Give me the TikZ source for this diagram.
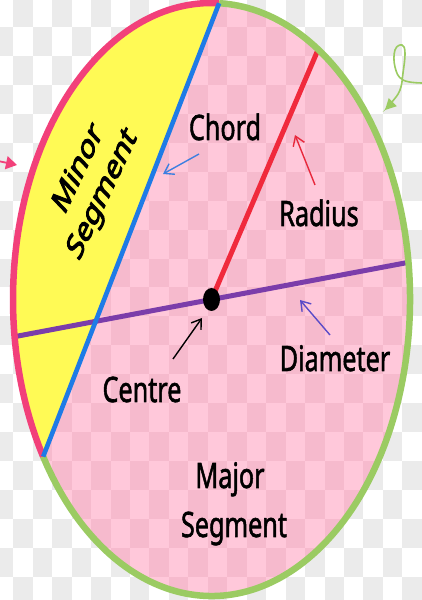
\documentclass[tikz,border=0pt]{standalone}
\usepackage{fontspec}
\setmainfont{Noto Sans}
\newfontfamily\lblfont{Noto Sans}[BoldFont={Noto Sans},BoldFeatures={FakeBold=1.8}]
\newfontfamily\minfont{Noto Sans}[BoldFont={Noto Sans},BoldFeatures={FakeBold=3.4}]
\usetikzlibrary{arrows.meta,calc}
\definecolor{bggrey}{HTML}{EBEBEB}
\definecolor{pinklight}{HTML}{FFC8DA}
\definecolor{pinkdark}{HTML}{F6BACD}
\definecolor{minorY}{HTML}{FFFA55}
\definecolor{pinkB}{HTML}{F2407A}
\definecolor{greenB}{HTML}{9BCB62}
\definecolor{chordB}{HTML}{1E7BE6}
\definecolor{radB}{HTML}{F02A3C}
\definecolor{diamB}{HTML}{7B3DAA}
\definecolor{chordA}{HTML}{3D7FE0}
\definecolor{radA}{HTML}{E8283C}
\definecolor{diamA}{HTML}{5A4BC8}
\begin{document}
\begin{tikzpicture}[x=1pt,y=1pt,
  lbl/.style={font=\lblfont\bfseries\fontsize{35}{40}\selectfont, inner sep=0pt, xscale=0.72, anchor=base},
  minorlbl/.style={font=\minfont\bfseries\fontsize{36}{44}\selectfont, inner sep=0pt, align=center, xscale=0.67, rotate=55},
  thinarrow/.style={line width=1.4pt, -{Straight Barb[length=9pt,width=12pt]}},
  border/.style={line width=6.5pt},
]
\useasboundingbox (0,0) rectangle (421,600);
\fill[white] (0,0) rectangle (421,600);
% background checkerboard
\foreach \i in {-1,...,21}{
  \foreach \j in {0,...,20}{
    \ifodd\numexpr\i+\j+2\relax\else
      \fill[bggrey] ({13.3+19.45*(\i)},{601.94-28.94*(\j)}) rectangle ++(19.45,-28.94);
    \fi
  }
}
\coordinate (C) at (211.5,300.5);
\path (C) ++(87.8:198.5pt and 296.5pt) coordinate (T);
\path (C) ++(212:198.5pt and 296.5pt) coordinate (B);
\path (C) ++(57.5:198.5pt and 296.5pt) coordinate (R);
\path (C) ++(187.2:198.5pt and 296.5pt) coordinate (DL);
\path (C) ++(7.2:198.5pt and 296.5pt) coordinate (DR);
% pink checkerboard inside
\begin{scope}
  \clip (C) ellipse[x radius=198.5pt, y radius=296.5pt];
  \fill[pinklight] (0,0) rectangle (421,600);
  \foreach \i in {-1,...,21}{
    \foreach \j in {0,...,20}{
      \ifodd\numexpr\i+\j+2\relax\else
        \fill[pinkdark] ({13.3+19.45*(\i)},{601.94-28.94*(\j)}) rectangle ++(19.45,-28.94);
      \fi
    }
  }
\end{scope}
% minor segment
\fill[minorY] (T) arc[start angle=87.8, end angle=212, x radius=198.5pt, y radius=296.5pt] -- cycle;
% diameter and radius
\draw[diamB, line width=5pt] (DL) -- (DR);
\draw[radB, line width=5pt] (C) -- (R);
% borders
\draw[pinkB, border] (T) arc[start angle=87.8, end angle=212, x radius=198.5pt, y radius=296.5pt];
\draw[greenB, border] (B) arc[start angle=212, end angle=447.8, x radius=198.5pt, y radius=296.5pt];
% chord
\draw[chordB, line width=4.6pt] (T) -- (B);
% centre dot
\fill[black] (C) ellipse[x radius=8.5pt, y radius=11.5pt];
% labels
\node[lbl] (chord) at (225,460) {Chord};
\node[lbl] (radius) at (319,374) {Radius};
\node[lbl] (diam) at (335,229) {Diameter};
\node[lbl] (centre) at (142,198) {Centre};
\node[lbl] (major) at (230,112) {Major};
\node[lbl] (majseg) at (234,63) {Segment};
\node[minorlbl] (minor) at (91,418) {Minor\\Segment};
% arrows
\coordinate (ca1) at (199,446); \coordinate (ca2) at (163,426);
\coordinate (ra1) at (315,415); \coordinate (ra2) at (295,465);
\coordinate (da1) at (330,265); \coordinate (da2) at (300,300);
\coordinate (ce1) at (173,241); \coordinate (ce2) at (202,282);
\draw[thinarrow, chordA] (ca1) -- (ca2);
\draw[thinarrow, radA] (ra1) -- (ra2);
\draw[thinarrow, diamA] (da1) -- (da2);
\draw[thinarrow, black] (ce1) -- (ce2);
% side arrows
\coordinate (pa1) at (-2,439); \coordinate (pa2) at (17,435);
\draw[pinkB, line width=1.8pt, -{Triangle[length=11pt,width=13pt]}] (pa1) -- (pa2);
\draw[greenB, line width=1.6pt, -{Triangle[length=11pt,width=11pt]}]
  plot[smooth, tension=0.7] coordinates {(423,517) (403,520) (395,533) (395,550) (402,555) (405,547) (403,527) (400,510) (392,498) (385,490)};
\end{tikzpicture}
\end{document}
